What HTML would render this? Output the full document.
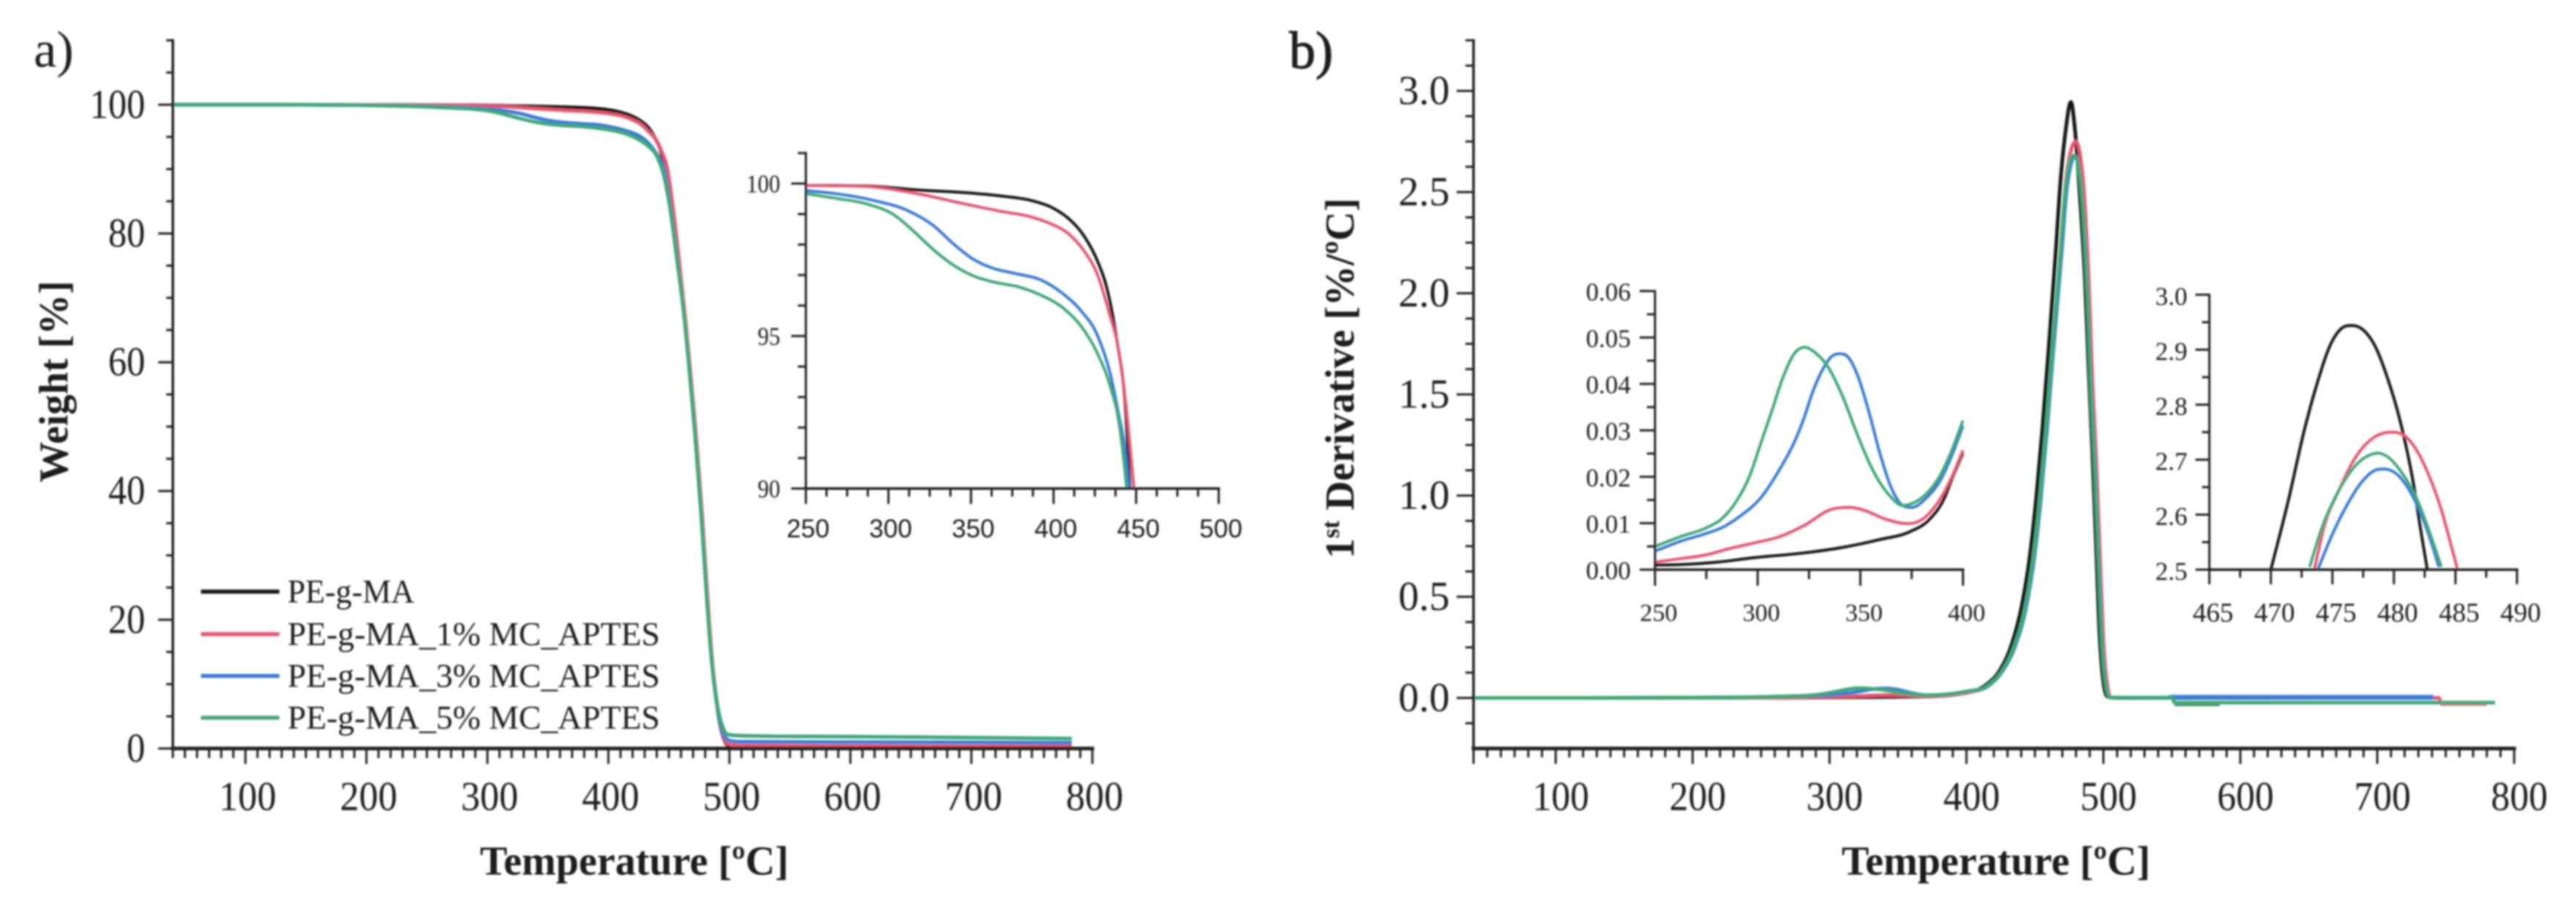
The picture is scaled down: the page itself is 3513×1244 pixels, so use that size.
<!DOCTYPE html>
<html lang="en">
<head>
<meta charset="utf-8">
<title>TGA and DTG curves of PE-g-MA composites</title>
<style>
html,body{margin:0;padding:0;background:#fff;}
svg{display:block;}
text{font-family:"Liberation Serif",serif;fill:#1c1c1c;}
</style>
</head>
<body>
<svg id="fig" xmlns="http://www.w3.org/2000/svg" width="3513" height="1244" viewBox="0 0 3513 1244">
<defs>
<filter id="soft" filterUnits="userSpaceOnUse" x="0" y="0" width="3513" height="1244"><feGaussianBlur stdDeviation="1.2"/></filter>
<clipPath id="clip-inset-a"><rect x="1096" y="200" width="570" height="467"/></clipPath>
<clipPath id="clip-inset-b1"><rect x="2254" y="390" width="426" height="387"/></clipPath>
<clipPath id="clip-inset-b2"><rect x="3010" y="395" width="426" height="382"/></clipPath>
</defs>
<rect x="0" y="0" width="3513" height="1244" fill="#fff"/>
<g id="root" filter="url(#soft)">
<text x="46" y="91" font-size="70">a)</text>
<text x="1758" y="93" font-size="72" stroke="#1c1c1c" stroke-width="1.2">b)</text>
<text x="865" y="1193" font-size="56" font-weight="bold" text-anchor="middle" textLength="421" lengthAdjust="spacingAndGlyphs">Temperature [ºC]</text>
<text x="2722" y="1193" font-size="56" font-weight="bold" text-anchor="middle" textLength="421" lengthAdjust="spacingAndGlyphs">Temperature [ºC]</text>
<text transform="translate(92 658) rotate(-90)" font-size="56" font-weight="bold" textLength="275" lengthAdjust="spacingAndGlyphs">Weight [%]</text>
<text transform="translate(1846 762) rotate(-90)" font-size="56" font-weight="bold" textLength="492" lengthAdjust="spacingAndGlyphs">1<tspan font-size="34" dy="-20">st</tspan><tspan dy="20"> Derivative [%/ºC]</tspan></text>
<g>
<line x1="274" x2="381" y1="807" y2="807" stroke="#161616" stroke-width="5.5"/>
<line x1="274" x2="381" y1="865" y2="865" stroke="#e4566e" stroke-width="5.5"/>
<line x1="274" x2="381" y1="922" y2="922" stroke="#3a7bd5" stroke-width="5.5"/>
<line x1="274" x2="381" y1="979" y2="979" stroke="#4aa67c" stroke-width="5.5"/>
<text x="392" y="822" font-size="46" textLength="173" lengthAdjust="spacingAndGlyphs">PE-g-MA</text>
<text x="392" y="880" font-size="46" textLength="508" lengthAdjust="spacingAndGlyphs">PE-g-MA_1% MC_APTES</text>
<text x="392" y="937" font-size="46" textLength="508" lengthAdjust="spacingAndGlyphs">PE-g-MA_3% MC_APTES</text>
<text x="392" y="994" font-size="46" textLength="508" lengthAdjust="spacingAndGlyphs">PE-g-MA_5% MC_APTES</text>
</g>
</g>
</svg>
<script>
/* ---------- tick labels ---------- */
const mainAXLabels = ['100','200','300','400','500','600','700','800'];
const mainAYLabels = ['0','20','40','60','80','100'];
const insetAXLabels = ['250','300','350','400','450','500'];
const insetAYLabels = ['90','95','100'];
const mainBXLabels = ['100','200','300','400','500','600','700','800'];
const mainBYLabels = ['0.0','0.5','1.0','1.5','2.0','2.5','3.0'];
const insetB1XLabels = ['250','300','350','400'];
const insetB1YLabels = ['0.00','0.01','0.02','0.03','0.04','0.05','0.06'];
const insetB2XLabels = ['465','470','475','480','485','490'];
const insetB2YLabels = ['2.5','2.6','2.7','2.8','2.9','3.0'];

/* ---------- weight inset (temperature, weight %) ---------- */
const insetABlackT = [250,287.7,317.4,347.2,367,386.9,398.8,408.7,418.6,426.5,432.5,438.4,443.4,446.3];
const insetABlackW = [99.94,99.92,99.79,99.7,99.6,99.44,99.22,98.87,98.27,97.47,96.52,94.83,92.73,90.0];
const insetARedT = [250,287.7,317.4,347.2,367,386.9,398.8,408.7,418.6,426.5,434.4,438.4,443.4,448.7];
const insetARedW = [99.94,99.9,99.67,99.32,99.1,98.9,98.67,98.37,97.78,97.03,95.63,94.83,92.94,90.0];
const insetABlueT = [250,267.8,291.6,311.5,327.3,339.2,351.1,363,376.9,392.8,404.7,416.6,426.5,434.4,439.4,443.4,445.9];
const insetABlueW = [99.77,99.67,99.44,99.12,98.62,98.03,97.53,97.23,97.05,96.83,96.43,95.83,95.03,93.74,92.44,91.25,90.0];
const insetAGreenT = [250,267.8,287.7,303.5,315.4,327.3,339.2,351.1,363,378.9,392.8,406.7,416.6,426.5,434.4,439.4,442.3,444.3];
const insetAGreenW = [99.67,99.52,99.32,98.97,98.43,97.83,97.33,96.98,96.78,96.61,96.33,95.88,95.33,94.44,93.34,92.24,91.05,90.0];

/* ---------- weight main plot: plateau + inset region + drop and tail ---------- */
const mainABlackT = [40,120,200,...insetABlackT,451.5,457,463.4,468,472.2,477.3,482,485.6,490.5,495,499,510,600,700,783];
const mainABlackW = [100,100,99.98,...insetABlackW,84.5,76.5,66.5,57.5,48.5,36,22.5,13.5,5.8,1.8,0.5,0.3,0.25,0.2,0.2];
const mainARedT = [40,120,200,...insetARedT,453,458,463.7,468.3,472.5,477.6,482.3,485.9,490.8,495.3,499.3,510,600,700,783];
const mainARedW = [100,100,99.98,...insetARedW,84.5,76.5,66.5,57.5,48.5,36,22.5,13.5,5.9,2,0.7,0.45,0.4,0.35,0.35];
const mainABlueT = [40,120,200,...insetABlueT,451,456.6,463.1,467.7,471.9,477,481.7,485.3,490.3,495,499,510,600,700,783];
const mainABlueW = [100,100,99.92,...insetABlueW,84.5,76.5,66.5,57.5,48.5,36,22.5,13.8,6.3,2.5,1.3,1.05,1,0.95,0.9];
const mainAGreenT = [40,120,200,...insetAGreenT,450.5,456.3,463,467.5,471.7,476.8,481.5,485.1,490,494.8,498.5,510,600,700,783];
const mainAGreenW = [100,100,99.9,...insetAGreenW,84.5,76.5,66.5,57.5,48.5,36,22.8,14.2,6.8,3.2,2.2,2,1.85,1.7,1.55];

/* ---------- derivative low-temperature inset ---------- */
const insetB1BlackT = [250,263,279.8,298.8,322.6,341.5,359.7,374.3,383.4,390.7,395.3,400];
const insetB1BlackV = [0.001,0.0011,0.0016,0.0026,0.0036,0.0048,0.0065,0.0082,0.0107,0.0152,0.0203,0.0251];
const insetB1RedT = [250,263,275,286.9,298.8,310.7,322.6,336,345.1,352.4,361.5,373.4,381.6,388.9,394.3,400];
const insetB1RedV = [0.0016,0.0024,0.0032,0.0046,0.0058,0.0071,0.0095,0.013,0.0134,0.0127,0.011,0.0099,0.0113,0.0152,0.0197,0.0257];
const insetB1BlueT = [250,263,275,283.3,291.7,301.2,310.7,317.8,322.6,326.9,332.4,336,340,344.2,348.8,354.3,359.7,365.2,370.7,375.2,381.6,388.9,394.3,400];
const insetB1BlueV = [0.004,0.0062,0.0078,0.0092,0.0116,0.0153,0.0216,0.0274,0.0327,0.0384,0.0437,0.0459,0.0465,0.0457,0.0417,0.0338,0.0248,0.0175,0.0138,0.0134,0.0152,0.0192,0.0243,0.031];
const insetB1GreenT = [250,263,275,282.1,289.3,296.4,301.2,307,312.4,317.8,322.9,327.8,334.2,341.5,348.8,356.1,363.4,370.7,374.3,381.6,388.9,394.3,400];
const insetB1GreenV = [0.005,0.0072,0.009,0.0108,0.0145,0.0205,0.0268,0.0343,0.0415,0.0465,0.0479,0.0468,0.0437,0.0372,0.0288,0.0214,0.0164,0.0138,0.0141,0.0161,0.0203,0.0254,0.0321];

/* ---------- derivative peak inset ---------- */
const insetB2BlackT = [470,471.4,472.7,473.75,474.9,475.7,476.6,477.5,478.5,479.5,480.5,481.5,482.25,482.7];
const insetB2BlackV = [2.5,2.624,2.752,2.838,2.912,2.938,2.944,2.936,2.905,2.847,2.771,2.667,2.562,2.502];
const insetB2RedT = [473.55,474.3,475.5,476.9,478.1,479.1,479.9,480.9,481.85,482.85,483.85,484.6,485.15];
const insetB2RedV = [2.502,2.576,2.643,2.705,2.736,2.748,2.75,2.743,2.717,2.671,2.609,2.548,2.502];
const insetB2BlueT = [473.85,474.95,476.1,477.3,478.5,479.2,480.1,481.05,482.05,483,483.65];
const insetB2BlueV = [2.502,2.562,2.614,2.657,2.681,2.683,2.676,2.652,2.609,2.552,2.505];
const insetB2GreenT = [473.15,474.15,475.5,476.9,478.1,478.7,479.5,480.65,481.85,482.85,483.85];
const insetB2GreenV = [2.505,2.576,2.643,2.69,2.709,2.712,2.705,2.676,2.629,2.571,2.505];

/* ---------- derivative main plot ---------- */
const mainBBlackT = [40,120,200,...insetB1BlackT,413.4,424.1,433,440.2,446.4,450.9,455.3,459.8,465.2,468.7,472.3,476.3,479.4,483,486.6,489.3,491.9,494.6,497.3,500,503.5,509.8,741];
const mainBBlackV = [0,0,0.001,...insetB1BlackV,0.06,0.134,0.264,0.449,0.708,0.985,1.318,1.706,2.205,2.557,2.797,2.945,2.797,2.464,2.057,1.614,1.225,0.763,0.301,0.079,0.005,0,0];
const mainBRedT = [40,120,200,...insetB1RedT,415.5,426.2,435.2,443.3,449.5,454,458.4,463,469.5,473.4,476.5,479.8,483,485.8,489.4,492,494.8,497.5,500.2,502.8,506,745,747,780];
const mainBRedV = [0,0,0.001,...insetB1RedV,0.06,0.134,0.255,0.449,0.707,0.985,1.318,1.706,2.28,2.6,2.71,2.75,2.68,2.5,2.04,1.56,1.17,0.7,0.26,0.065,0.002,0,-0.03,-0.03];
const mainBBlueT = [40,120,200,...insetB1BlueT,416,426.5,435.5,443.6,449.8,454.3,458.7,463.2,469.5,473,476,479.2,482.5,485,488.6,491.2,494,496.7,499.4,502,505.5,741];
const mainBBlueV = [0,0,0.002,...insetB1BlueV,0.06,0.134,0.255,0.449,0.707,0.985,1.318,1.7,2.2,2.5,2.63,2.68,2.6,2.42,1.965,1.503,1.133,0.671,0.245,0.06,0.002,0];
const mainBGreenT = [40,120,200,...insetB1GreenT,415.2,425.9,434.8,442.9,449.1,453.6,458,462.5,468.7,472.3,475,478.6,482.1,484.8,488.4,491,493.7,496.4,499.1,501.8,505.3,550,552,786];
const mainBGreenV = [0,0,0.002,...insetB1GreenV,0.06,0.134,0.255,0.449,0.707,0.985,1.318,1.706,2.205,2.52,2.64,2.68,2.612,2.427,1.965,1.503,1.133,0.671,0.245,0.06,0.002,0,-0.023,-0.023];
/* short offset traces visible beside the tails */
const tailBlueT = [548,741];
const tailBlueV = [0.006,0.006];
const tailGreenT = [552,585];
const tailGreenV = [-0.032,-0.032];

const BLACK = '#161616', RED = '#e4566e', BLUE = '#3a7bd5', GREEN = '#3fa878', DARKGREEN = '#55917a';
const NS = 'http://www.w3.org/2000/svg';
const root = document.getElementById('root');

function linear(d0, d1, r0, r1) {
  return function (v) { return r0 + (v - d0) * (r1 - r0) / (d1 - d0); };
}

function drawTickLine(parent, x1, y1, x2, y2, width) {
  const el = document.createElementNS(NS, 'line');
  
  
  el.setAttribute('x1', x1); el.setAttribute('y1', y1);
  el.setAttribute('x2', x2); el.setAttribute('y2', y2);
  el.setAttribute('stroke', '#222');
  el.setAttribute('stroke-width', width);
  parent.appendChild(el);
}

function drawAxisLine(parent, x1, y1, x2, y2, width) {
  const el = document.createElementNS(NS, 'line');
  
  
  el.setAttribute('x1', x1); el.setAttribute('y1', y1);
  el.setAttribute('x2', x2); el.setAttribute('y2', y2);
  el.setAttribute('stroke', '#222');
  el.setAttribute('stroke-width', width);
  el.setAttribute('stroke-linecap', 'square');
  parent.appendChild(el);
}

function drawTickLabel(parent, str, x, y, size, anchor, family, cond) {
  const el = document.createElementNS(NS, 'text');
  
  
  el.setAttribute('x', x); el.setAttribute('y', y);
  el.setAttribute('font-size', size);
  el.setAttribute('text-anchor', anchor);
  if (family) el.setAttribute('style', 'font-family:' + family);
  if (cond) {
    const natural = str.split('').reduce(function (a, c) { return a + (c === '.' ? 0.25 : 0.5); }, 0) * size;
    el.setAttribute('textLength', (natural * cond).toFixed(1));
    el.setAttribute('lengthAdjust', 'spacingAndGlyphs');
  }
  el.textContent = str;
  parent.appendChild(el);
}

/* smooth shape-preserving cubic path through data points, via axis functions */
function curvePath(ts, vs, sx, sy) {
  const px = ts.map(sx), py = vs.map(sy), n = px.length;
  const d = [], m = new Array(n);
  for (let i = 0; i < n - 1; i++) d.push((py[i + 1] - py[i]) / (px[i + 1] - px[i]));
  m[0] = d[0]; m[n - 1] = d[n - 2];
  for (let i = 1; i < n - 1; i++) {
    if (d[i - 1] * d[i] <= 0) { m[i] = 0; }
    else {
      const h0 = px[i] - px[i - 1], h1 = px[i + 1] - px[i];
      const p = (h1 * d[i - 1] + h0 * d[i]) / (h0 + h1);
      const lim = 3 * Math.min(Math.abs(d[i - 1]), Math.abs(d[i]));
      m[i] = Math.sign(p) * Math.min(Math.abs(p), lim);
    }
  }
  let s = 'M' + px[0].toFixed(2) + ' ' + py[0].toFixed(2);
  for (let i = 0; i < n - 1; i++) {
    const h = (px[i + 1] - px[i]) / 3;
    s += 'C' + (px[i] + h).toFixed(2) + ' ' + (py[i] + m[i] * h).toFixed(2) + ' ' +
      (px[i + 1] - h).toFixed(2) + ' ' + (py[i + 1] - m[i + 1] * h).toFixed(2) + ' ' +
      px[i + 1].toFixed(2) + ' ' + py[i + 1].toFixed(2);
  }
  return s;
}

function drawCurve(parent, seriesName, ts, vs, sx, sy, color, width, clip) {
  const el = document.createElementNS(NS, 'path');
  
  
  el.setAttribute('d', curvePath(ts, vs, sx, sy));
  el.setAttribute('fill', 'none');
  el.setAttribute('stroke', color);
  el.setAttribute('stroke-width', width);
  el.setAttribute('stroke-linejoin', 'round');
  if (clip) el.setAttribute('clip-path', 'url(#' + clip + ')');
  parent.appendChild(el);
}

function drawPlot(cfg) {
  const g = document.createElementNS(NS, 'g');
  
  
  root.appendChild(g);
  const sx = linear(cfg.xd[0], cfg.xd[1], cfg.xr[0], cfg.xr[1]);
  const sy = linear(cfg.yd[0], cfg.yd[1], cfg.yr[0], cfg.yr[1]);
  const tickW = cfg.tickW;

  const isMajorX = function (v) { return cfg.xLabels.some(function (l) { return Math.abs(parseFloat(l) - v) < 1e-6; }); };
  const isMajorY = function (v) { return cfg.yLabels.some(function (l) { return Math.abs(parseFloat(l) - v) < 1e-6; }); };

  /* curves */
  cfg.series.forEach(function (s) {
    drawCurve(g, s[0], s[1], s[2], sx, sy, s[3], cfg.lineW, cfg.clip);
  });

  /* axes */
  const x0 = cfg.xr[0], y0 = cfg.yr[0];
  drawAxisLine(g, x0, cfg.yr[0], x0, cfg.yr[1], cfg.yAxisW);
  drawAxisLine(g, cfg.xr[0], y0, cfg.xr[1], y0, cfg.xAxisW);

  /* x ticks */
  const nx = Math.round((cfg.xd[1] - cfg.xd[0]) / cfg.xMinorStep);
  for (let i = 0; i <= nx; i++) {
    const v = cfg.xd[0] + i * cfg.xMinorStep;
    const len = (isMajorX(v) || i === nx || (cfg.xFirstMajor && i === 0)) ? cfg.xMajor : cfg.xMinor;
    drawTickLine(g, sx(v), y0, sx(v), y0 + len, tickW);
  }
  cfg.xLabels.forEach(function (l) {
    drawTickLabel(g, l, sx(parseFloat(l)) + cfg.xLabelDx, cfg.xLabelY, cfg.xFont, 'middle', cfg.xFamily, cfg.xCond);
  });

  /* y ticks */
  const ny = Math.round((cfg.yd[1] - cfg.yd[0]) / cfg.yMinorStep);
  for (let i = 0; i <= ny; i++) {
    const v = cfg.yd[0] + i * cfg.yMinorStep;
    const major = isMajorY(v);
    if (i === 0 && !major) continue;
    drawTickLine(g, x0 - (major ? cfg.yMajor : cfg.yMinor), sy(v), x0, sy(v), tickW);
  }
  cfg.yLabels.forEach(function (l) {
    drawTickLabel(g, l, cfg.yLabelX, sy(parseFloat(l)) + cfg.yLabelDy, cfg.yFont, 'end', null, cfg.yCond);
  });
}

drawPlot({
  name: 'panel-a-main-plot', xd: [40, 800], xr: [235.7, 1489.7], yd: [0, 110], yr: [1021, 55],
  xLabels: mainAXLabels, yLabels: mainAYLabels, xMinorStep: 10, yMinorStep: 5,
  xMajor: 21, xMinor: 13, yMajor: 20, yMinor: 9, tickW: 3, xAxisW: 5, yAxisW: 3.5, lineW: 5, xFirstMajor: false,
  xLabelDx: 3, xLabelY: 1105, xFont: 56, xCond: 0.93, yLabelX: 198, yLabelDy: 18, yFont: 56, yCond: 0.9,
  series: [
    ['weight-curve-pe-g-ma', mainABlackT, mainABlackW, BLACK],
    ['weight-curve-1pct', mainARedT, mainARedW, RED],
    ['weight-curve-3pct', mainABlueT, mainABlueW, BLUE],
    ['weight-curve-5pct', mainAGreenT, mainAGreenW, GREEN]
  ]
});

drawPlot({
  name: 'panel-a-inset-plot', xd: [250, 500], xr: [1099, 1662], yd: [90, 101], yr: [666.4, 208.8],
  xLabels: insetAXLabels, yLabels: insetAYLabels, xMinorStep: 12.5, yMinorStep: 1,
  xMajor: 21, xMinor: 11, yMajor: 20, yMinor: 11, tickW: 3, xAxisW: 3.5, yAxisW: 3, lineW: 4, xFirstMajor: true,
  xLabelDx: 3, xLabelY: 733, xFont: 35, xFamily: '"Liberation Sans",sans-serif', yLabelX: 1064, yLabelDy: 12, yFont: 35, yCond: 0.88, clip: 'clip-inset-a',
  series: [
    ['inset-weight-curve-pe-g-ma', insetABlackT, insetABlackW, BLACK],
    ['inset-weight-curve-1pct', insetARedT, insetARedW, RED],
    ['inset-weight-curve-3pct', insetABlueT, insetABlueW, BLUE],
    ['inset-weight-curve-5pct', insetAGreenT, insetAGreenW, GREEN]
  ]
});

drawPlot({
  name: 'panel-b-main-plot', xd: [40, 800], xr: [2009.5, 3428.7], yd: [-0.25, 3.25], yr: [1021, 55],
  xLabels: mainBXLabels, yLabels: mainBYLabels, xMinorStep: 10, yMinorStep: 0.125,
  xMajor: 21, xMinor: 12, yMajor: 23, yMinor: 11, tickW: 3, xAxisW: 5, yAxisW: 3.5, lineW: 5, xFirstMajor: true,
  xLabelDx: 7, xLabelY: 1105, xFont: 56, xCond: 0.92, yLabelX: 1977, yLabelDy: 18, yFont: 56,
  series: [
    ['derivative-curve-pe-g-ma', mainBBlackT, mainBBlackV, BLACK],
    ['derivative-curve-1pct', mainBRedT, mainBRedV, RED],
    ['derivative-tail-3pct', tailBlueT, tailBlueV, BLUE],
    ['derivative-curve-3pct', mainBBlueT, mainBBlueV, BLUE],
    ['derivative-tail-5pct', tailGreenT, tailGreenV, DARKGREEN],
    ['derivative-curve-5pct', mainBGreenT, mainBGreenV, GREEN]
  ]
});

drawPlot({
  name: 'panel-b-low-temperature-inset', xd: [250, 400], xr: [2257, 2677], yd: [0, 0.06], yr: [777, 397],
  xLabels: insetB1XLabels, yLabels: insetB1YLabels, xMinorStep: 25, yMinorStep: 0.005,
  xMajor: 22, xMinor: 13, yMajor: 21, yMinor: 11, tickW: 3, xAxisW: 3.5, yAxisW: 3, lineW: 4, xFirstMajor: true,
  xLabelDx: 5, xLabelY: 847, xFont: 34, yLabelX: 2224, yLabelDy: 13, yFont: 35, clip: 'clip-inset-b1',
  series: [
    ['inset-derivative-curve-pe-g-ma', insetB1BlackT, insetB1BlackV, BLACK],
    ['inset-derivative-curve-1pct', insetB1RedT, insetB1RedV, RED],
    ['inset-derivative-curve-3pct', insetB1BlueT, insetB1BlueV, BLUE],
    ['inset-derivative-curve-5pct', insetB1GreenT, insetB1GreenV, GREEN]
  ]
});

drawPlot({
  name: 'panel-b-peak-inset', xd: [465, 490], xr: [3013, 3432.5], yd: [2.5, 3.0], yr: [777, 402],
  xLabels: insetB2XLabels, yLabels: insetB2YLabels, xMinorStep: 2.5, yMinorStep: 0.05,
  xMajor: 20, xMinor: 11, yMajor: 19, yMinor: 10, tickW: 3, xAxisW: 3.5, yAxisW: 3, lineW: 4, xFirstMajor: true,
  xLabelDx: 5, xLabelY: 848, xFont: 37, yLabelX: 2983, yLabelDy: 14, yFont: 35, clip: 'clip-inset-b2',
  series: [
    ['inset-peak-curve-pe-g-ma', insetB2BlackT, insetB2BlackV, BLACK],
    ['inset-peak-curve-1pct', insetB2RedT, insetB2RedV, RED],
    ['inset-peak-curve-3pct', insetB2BlueT, insetB2BlueV, BLUE],
    ['inset-peak-curve-5pct', insetB2GreenT, insetB2GreenV, GREEN]
  ]
});
</script>
</body>
</html>
